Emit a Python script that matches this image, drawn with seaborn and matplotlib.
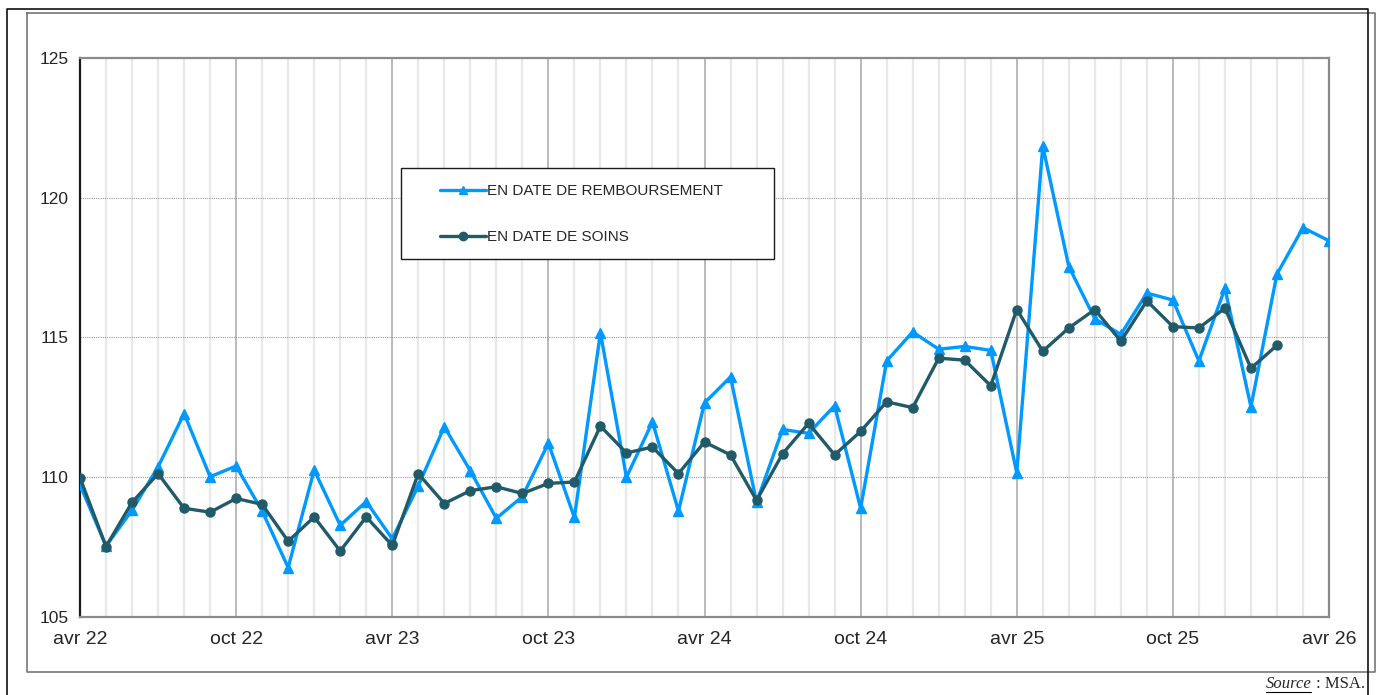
import numpy as np
import pandas as pd
import seaborn as sns
import matplotlib.pyplot as plt
from matplotlib.lines import Line2D
from matplotlib.patches import Rectangle

# Mois d'avril 2022 à avril 2026
mois = pd.date_range('2022-04-01', '2026-04-01', freq='MS')
noms_mois = {4: 'avr', 10: 'oct'}
etiquettes = [f"{noms_mois[d.month]} {d.strftime('%y')}" for d in mois[::6]]

remboursement = [109.73, 107.54, 108.82, 110.37, 112.28, 110.02, 110.4, 108.79, 106.77, 110.26,
                 108.28, 109.13, 107.8, 109.69, 111.81, 110.23, 108.53, 109.31, 111.22, 108.56,
                 115.17, 110.0, 111.98, 108.79, 112.66, 113.59, 109.1, 111.71, 111.57, 112.56,
                 108.89, 114.16, 115.2, 114.58, 114.68, 114.54, 110.16, 121.85, 117.54, 115.67,
                 115.11, 116.59, 116.34, 114.16, 116.76, 112.52, 117.27, 118.93, 118.46]

soins = [109.98, 107.52, 109.1, 110.13, 108.89, 108.75, 109.24, 109.03, 107.71, 108.58,
         107.36, 108.58, 107.56, 110.13, 109.06, 109.52, 109.66, 109.42, 109.78, 109.83,
         111.83, 110.87, 111.08, 110.13, 111.26, 110.8, 109.17, 110.84, 111.93, 110.8,
         111.64, 112.7, 112.49, 114.26, 114.19, 113.27, 116.0, 114.51, 115.34, 116.0,
         114.87, 116.31, 115.39, 115.34, 116.05, 113.9, 114.72]

lab_remb = 'EN DATE DE REMBOURSEMENT'
lab_soins = 'EN DATE DE SOINS'
couleurs = {lab_remb: '#0099FF', lab_soins: '#215A68'}

df = pd.concat([
    pd.DataFrame({'x': np.arange(len(remboursement)), 'val': remboursement, 'serie': lab_remb}),
    pd.DataFrame({'x': np.arange(len(soins)), 'val': soins, 'serie': lab_soins}),
])

sns.set_style('white')
plt.rcParams['font.family'] = ['Liberation Sans', 'DejaVu Sans']

W, H = 1378, 695
fig = plt.figure(figsize=(W / 100, H / 100), dpi=100)
ax = fig.add_axes([80 / W, 1 - 617 / H, (1329 - 80) / W, (617 - 58) / H])

# grille verticale : mensuelle claire, semestrielle plus foncée
for i in range(len(mois)):
    if i % 6 == 0:
        ax.axvline(i, color='#b4b4b4', lw=1.3, zorder=0)
    else:
        ax.axvline(i, color='#e8e8e8', lw=1.6, zorder=0)
for yv in [110, 115, 120]:
    ax.axhline(yv, color='#9a9a9a', lw=0.8, ls=(0, (1, 1)), zorder=0)

sns.lineplot(data=df, x='x', y='val', hue='serie', style='serie',
             markers={lab_remb: '^', lab_soins: 'o'}, dashes=False,
             palette=couleurs, linewidth=2.4, markersize=6.5,
             ax=ax, legend=False, zorder=3)
for ln in ax.lines:
    if ln.get_marker() in ('^', 'o'):
        ln.set_markeredgecolor(ln.get_color())
        ln.set_markeredgewidth(1.0)

ax.set_xlim(0, len(mois) - 1)
ax.set_ylim(105, 125)
ax.set_yticks([105, 110, 115, 120, 125])
ax.set_yticklabels(['105', '110', '115', '120', '125'], fontsize=12.5)
ax.set_xticks(range(0, len(mois), 6))
ax.set_xticklabels(etiquettes, fontsize=14)
ax.tick_params(axis='both', length=0)
ax.tick_params(axis='y', pad=8)
ax.tick_params(axis='x', pad=10)
ax.set_xlabel('')
ax.set_ylabel('')

for s in ['top', 'right', 'bottom']:
    ax.spines[s].set_color('#8a8a8a')
    ax.spines[s].set_linewidth(1.6)
    ax.spines[s].set_visible(True)
ax.spines['left'].set_color('#1a1a1a')
ax.spines['left'].set_linewidth(1.6)
ax.spines['left'].set_visible(True)

# légende : cadre dessiné à part, entrées décalées vers l'intérieur
fig.add_artist(Rectangle((401 / W, 1 - 259 / H), (774 - 401) / W, (259 - 168) / H,
                         facecolor='white', edgecolor='#1a1a1a', lw=1.0, zorder=5))
handles = [
    Line2D([], [], color=couleurs[lab_remb], marker='^', lw=2.4, markersize=6),
    Line2D([], [], color=couleurs[lab_soins], marker='o', lw=2.4, markersize=6),
]
leg = fig.legend(handles, [lab_remb, lab_soins], loc='upper left',
                 bbox_to_anchor=(440 / W, 1 - 184 / H), fontsize=11,
                 frameon=False, borderpad=0, labelspacing=2.1,
                 handlelength=3.0, handletextpad=0.1, borderaxespad=0)
leg.set_zorder(6)

# cadres autour du graphique
fig.add_artist(Line2D([27 / W, 1375 / W, 1375 / W, 27 / W, 27 / W],
                      [1 - 13 / H, 1 - 13 / H, 1 - 672 / H, 1 - 672 / H, 1 - 13 / H],
                      color='#777777', lw=1.2))
fig.add_artist(Line2D([7 / W, 7 / W, 1368 / W, 1368 / W],
                      [0, 1 - 9 / H, 1 - 9 / H, 0], color='#111111', lw=1.2))

fig.text(1266 / W, 1 - 684 / H, 'Source', fontsize=12, family='Liberation Serif',
         style='italic', ha='left', va='center')
fig.add_artist(Line2D([1266 / W, 1311 / W], [1 - 692 / H, 1 - 692 / H], color='black', lw=0.8))
fig.text(1316 / W, 1 - 684 / H, ': MSA.', fontsize=12, family='Liberation Serif',
         ha='left', va='center')

fig.savefig('out.png', dpi=100)
